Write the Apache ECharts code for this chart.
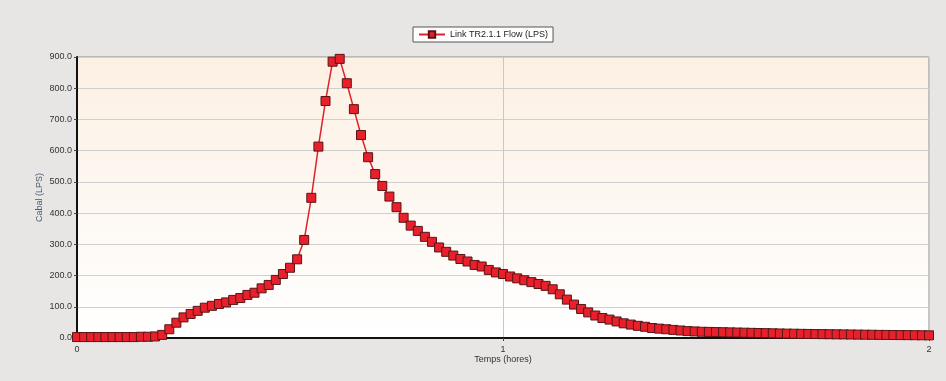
<!DOCTYPE html>
<html>
<head>
<meta charset="utf-8">
<script src="https://cdn.jsdelivr.net/npm/echarts@6/dist/echarts.min.js"></script>
<style>
  html, body { margin: 0; padding: 0; background: #e8e6e4; }
  #chart { width: 946px; height: 381px; }
</style>
</head>
<body>
<div id="chart"></div>
<script>
// Link flow, sampled every minute over two hours
const seriesName = 'Link TR2.1.1 Flow (LPS)';
const stepHours = 1 / 60;
const flowLps = [
  3, 3, 3, 3, 3, 3, 3, 3, 3, 4, 4, 5,
  10, 28, 49, 66, 77, 87, 97, 103, 109, 114, 122,
  128, 138, 145, 159, 170, 186, 205, 225, 252, 314, 449, 613, 759, 885, 894,
  816, 733, 650, 579, 525, 487, 453, 419, 385, 360, 343, 324, 308, 290, 276,
  264, 253, 245, 234, 229, 218,
  210, 205, 197, 191, 185, 179, 173, 167, 156, 140, 123, 107, 93, 82, 72, 64,
  59, 53, 47, 43, 39, 36, 32, 30, 28, 26, 24,
  22, 21, 20, 19.5, 19, 18.5, 18, 17.5, 17, 16.5, 16, 15.5, 15, 14.5, 14,
  13.7, 13.3, 13, 12.7, 12.4, 12.1, 11.8, 11.5, 11.2, 10.9, 10.6, 10.3, 10,
  9.8, 9.6, 9.4, 9.2, 9, 8.8, 8.6
];
const xTicks = [0, 1, 2];
const yTicks = [0, 100, 200, 300, 400, 500, 600, 700, 800, 900];

const points = flowLps.map((v, i) => [i * stepHours, v]);

const chart = echarts.init(document.getElementById('chart'), null, { renderer: 'canvas' });
const font = 'Liberation Sans, Arial, sans-serif';

chart.setOption({
  backgroundColor: '#e8e6e4',
  animation: false,
  textStyle: { fontFamily: font },
  legend: {
    left: 413,
    top: 27,
    padding: [3, 5, 3, 5],
    backgroundColor: '#ffffff',
    borderColor: '#555555',
    borderWidth: 1,
    borderRadius: 0,
    itemWidth: 26,
    itemHeight: 8,
    itemGap: 4,
    textStyle: { fontSize: 9, color: '#222', fontFamily: font },
    data: [seriesName]
  },
  grid: {
    left: 77,
    right: 17,
    top: 57,
    bottom: 43,
    show: true,
    borderColor: '#8a8a8a',
    borderWidth: 1,
    backgroundColor: new echarts.graphic.LinearGradient(0, 0, 0, 1, [
      { offset: 0, color: '#fcf0e3' },
      { offset: 1, color: '#ffffff' }
    ])
  },
  xAxis: {
    type: 'value',
    min: xTicks[0],
    max: xTicks[xTicks.length - 1],
    interval: 1,
    name: 'Temps (hores)',
    nameLocation: 'middle',
    nameGap: 17,
    nameMoveOverlap: false,
    nameTextStyle: { fontSize: 9, color: '#333' },
    axisLine: { show: true, onZero: false, lineStyle: { color: '#111', width: 2 } },
    axisTick: { show: true, length: 3, lineStyle: { color: '#444' } },
    axisLabel: { fontSize: 9, color: '#333', margin: 7 },
    splitLine: { show: true, lineStyle: { color: '#c8c8c8', width: 1 } }
  },
  yAxis: {
    type: 'value',
    min: yTicks[0],
    max: yTicks[yTicks.length - 1],
    interval: 100,
    name: 'Cabal (LPS)',
    nameLocation: 'middle',
    nameGap: 33,
    nameMoveOverlap: false,
    nameTextStyle: { fontSize: 9, color: '#4a5a6a' },
    axisLine: { show: true, lineStyle: { color: '#111', width: 2 } },
    axisTick: { show: true, length: 3, lineStyle: { color: '#444' } },
    axisLabel: { fontSize: 9, color: '#333', margin: 5, formatter: v => v.toFixed(1) },
    splitLine: { show: true, lineStyle: { color: '#cfcfcf', width: 1 } }
  },
  series: [{
    name: seriesName,
    type: 'line',
    data: points,
    symbol: 'rect',
    symbolSize: 9,
    showAllSymbol: true,
    lineStyle: { color: '#e0202a', width: 1.5 },
    itemStyle: { color: '#e8202c', borderColor: '#5a1414', borderWidth: 1 },
    z: 3
  }]
});
</script>
</body>
</html>
